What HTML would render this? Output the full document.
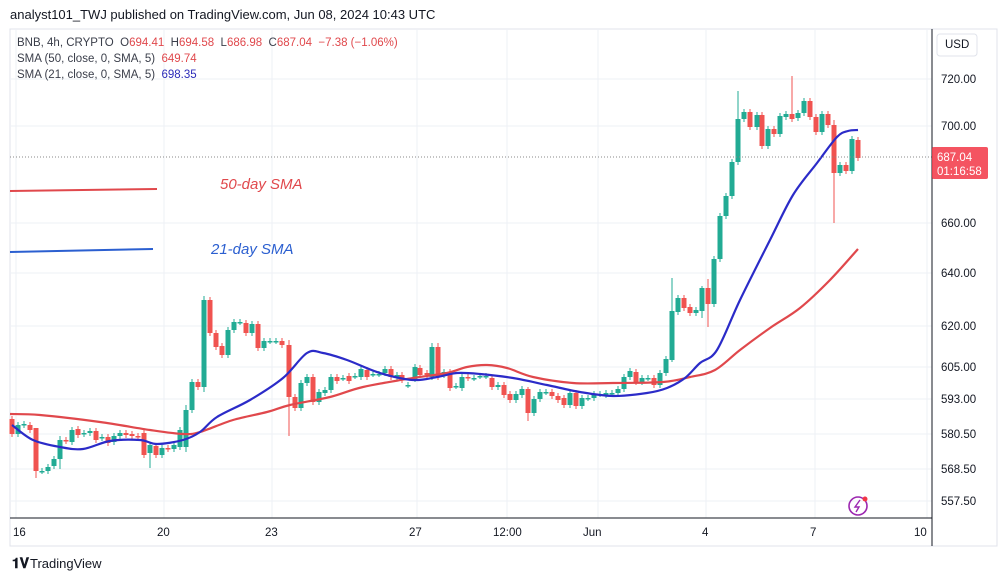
<!DOCTYPE html>
<html><head><meta charset="utf-8">
<style>
body{margin:0;background:#fff;width:1003px;height:581px;overflow:hidden;font-family:"Liberation Sans",sans-serif}
svg text{font-family:"Liberation Sans",sans-serif;white-space:pre}
</style></head><body>
<svg id="s" width="1003" height="581" xmlns="http://www.w3.org/2000/svg">
<rect width="1003" height="581" fill="#fff"/>
<text x="10" y="19" font-size="13" fill="#131722">analyst101_TWJ published on TradingView.com, Jun 08, 2024 10:43 UTC</text>
<rect x="10" y="29" width="987" height="517" fill="none" stroke="#e0e3eb"/>
<g id="grid" stroke="#eef1f6" stroke-width="1"></g>
<g id="cs"></g>
<g id="ln"></g>
<line x1="10" y1="157" x2="932" y2="157" stroke="#888" stroke-dasharray="1,2"/>
<line x1="932" y1="29" x2="932" y2="546" stroke="#131722"/>
<line x1="10" y1="518" x2="932" y2="518" stroke="#131722"/>
<g font-size="11.5" fill="#131722" id="pl"></g>
<g font-size="11.5" fill="#131722">
<text x="13" y="536">16</text><text x="157" y="536">20</text><text x="265" y="536">23</text><text x="409" y="536">27</text><text x="493" y="536">12:00</text><text x="583" y="536">Jun</text><text x="702" y="536">4</text><text x="810" y="536">7</text><text x="914" y="536">10</text>
</g>
<rect x="932" y="147" width="56" height="32" rx="2" fill="#f23645" opacity="0.85"/>
<text x="937" y="161" font-size="11.5" fill="#fff">687.04</text>
<text x="937" y="175" font-size="11.5" fill="#fff">01:16:58</text>
<text x="945" y="48" font-size="11.5" fill="#131722">USD</text>
<rect x="937" y="34" width="40" height="22" rx="3" fill="none" stroke="#e0e3eb"/>
<g font-size="11.5" fill="#3a3e4a">
<text x="17" y="46" xml:space="preserve">BNB, 4h, CRYPTO  O<tspan fill="#e0484c">694.41</tspan>  H<tspan fill="#e0484c">694.58</tspan>  L<tspan fill="#e0484c">686.98</tspan>  C<tspan fill="#e0484c">687.04  −7.38 (−1.06%)</tspan></text>
<text x="17" y="62" xml:space="preserve">SMA (50, close, 0, SMA, 5)  <tspan fill="#e0484c">649.74</tspan></text>
<text x="17" y="78" xml:space="preserve">SMA (21, close, 0, SMA, 5)  <tspan fill="#2b2bb8">698.35</tspan></text>
</g>
<line x1="10" y1="191" x2="157" y2="189" stroke="#e0484c" stroke-width="2"/>
<line x1="10" y1="252" x2="153" y2="249" stroke="#2b5fd0" stroke-width="2"/>
<text x="220" y="189" font-size="15" font-style="italic" fill="#e0484c">50-day SMA</text>
<text x="211" y="254" font-size="15" font-style="italic" fill="#2b5fd0">21-day SMA</text>
<circle cx="858" cy="506" r="9" fill="none" stroke="#9c27b0" stroke-width="1.6"/>
<path d="M860 500 L855 507 L859 507 L856 512" fill="none" stroke="#9c27b0" stroke-width="1.4"/>
<circle cx="865" cy="499" r="2.5" fill="#f23645"/>
<text x="12" y="568" font-size="14" font-weight="bold" fill="#131722">𝟏𝐕</text>
<text x="30" y="568" font-size="13" fill="#131722">TradingView</text>
</svg>
<script>
const NS="http://www.w3.org/2000/svg";
function el(p,t,a){const e=document.createElementNS(NS,t);for(const k in a)e.setAttribute(k,a[k]);p.appendChild(e);return e;}
const g=document.getElementById('grid');
const prices=[[720,79],[700,126],[660,223],[640,273],[620,326],[605,367],[593,399],[580.5,434],[568.5,469],[557.5,501]];
prices.forEach(p=>{el(g,'line',{x1:10,x2:932,y1:p[1],y2:p[1]});const t=el(document.getElementById('pl'),'text',{x:941,y:p[1]+4});t.textContent=p[0].toFixed(2);});
[16,164,272,417,507,598,706,815,927].forEach(x=>el(g,'line',{x1:x,x2:x,y1:29,y2:518}));
const c=[[12,419,434],[18,434,425],[24,425,424],[30,425,430],[36,428,471],[42,471,471],[48,471,467],[54,466,459],[60,459,440],[66,440,441],[72,442,430],[78,429,435],[84,434,433],[90,433,431],[96,431,440],[102,438,437],[108,437,443],[114,442,436],[120,436,433],[126,433,435],[132,434,436],[138,436,437],[144,433,455],[150,453,445],[156,446,455],[162,455,448],[168,448,449],[174,449,445],[180,447,430],[186,447,410],[192,410,382],[198,382,387],[204,387,300],[210,300,333],[216,333,347],[222,346,355],[228,355,330],[234,330,322],[240,322,322],[246,323,333],[252,333,324],[258,324,348],[264,348,341],[270,341,341],[276,341,341],[282,341,345],[289,345,397],[295,397,408],[301,408,383],[307,383,377],[313,377,402],[319,402,392],[325,393,390],[331,390,377],[337,377,381],[343,378,378],[349,376,381],[355,376,376],[361,377,369],[367,370,377],[373,374,374],[379,374,374],[385,373,369],[391,369,377],[397,377,375],[402,375,380],[408,385,385],[415,379,367],[420,368,375],[427,373,375],[432,377,347],[438,347,377],[444,375,372],[450,372,388],[456,386,386],[462,388,377],[468,377,378],[474,378,378],[480,376,376],[486,376,376],[492,378,387],[498,387,385],[504,385,395],[510,394,400],[516,400,394],[522,395,389],[528,389,413],[534,413,399],[540,399,392],[546,392,392],[552,392,396],[558,396,400],[564,398,405],[570,405,393],[576,393,406],[582,406,398],[588,398,398],[594,398,394],[600,394,394],[606,395,393],[612,393,393],[618,393,389],[624,389,377],[630,377,371],[636,372,382],[642,382,378],[648,378,378],[654,378,385],[660,385,373],[666,373,359],[672,360,311],[678,312,298],[684,298,308],[690,307,313],[696,313,310],[702,311,288],[708,288,304],[714,304,259],[720,259,216],[726,216,196],[732,196,162],[738,162,119],[744,119,112],[750,112,127],[757,127,115],[762,115,146],[768,146,129],[774,129,134],[780,134,116],[786,117,114],[792,114,119],[798,118,113],[804,113,101],[810,101,117],[816,117,132],[822,132,114],[828,114,125],[834,125,173],[840,173,165],[846,165,171],[852,171,139],[858,140,158]];
const wk={36:[428,478],204:[296,392],186:[405,452],289:[340,436],432:[343,380],438:[343,380],738:[91,165],792:[76,122],834:[120,223],528:[387,421],672:[278,362],702:[286,318],708:[279,327],60:[436,469],150:[443,468]};
const cs=document.getElementById('cs');
c.forEach(d=>{const [x,o,cl]=d;const up=cl<=o;const col=up?'#22ab94':'#f05350';
let hi=Math.min(o,cl)-3,lo=Math.max(o,cl)+3;if(wk[x]){hi=wk[x][0];lo=wk[x][1];}
el(cs,'line',{x1:x,x2:x,y1:hi,y2:lo,stroke:col,'stroke-width':1});
const t=Math.min(o,cl),h=Math.max(1.5,Math.abs(o-cl));
el(cs,'rect',{x:x-2.5,y:t,width:5,height:h,fill:col});});
const red=[[10,414],[40,415],[100,422],[150,430],[183,434],[200,432],[233,420],[267,412],[290,405],[330,397],[363,387],[413,378],[447,373],[467,367],[487,365],[507,368],[533,377],[573,383],[613,383],[663,382],[690,377],[715,370],[740,350],[770,328],[800,308],[830,280],[858,249]];
const blue=[[12,425],[33,440],[60,447],[83,449],[110,441],[140,440],[157,444],[183,440],[200,432],[217,417],[250,400],[283,378],[307,353],[323,353],[347,360],[380,373],[413,380],[437,377],[457,373],[480,374],[513,378],[547,385],[580,392],[613,396],[647,393],[667,388],[685,378],[700,363],[717,350],[740,300],[770,240],[793,195],[817,163],[837,137],[848,131],[858,130]];
function smooth(a){let d='M'+a[0][0]+','+a[0][1];for(let i=0;i<a.length-1;i++){const p0=a[i-1]||a[i],p1=a[i],p2=a[i+1],p3=a[i+2]||p2;
const c1=[p1[0]+(p2[0]-p0[0])/6,p1[1]+(p2[1]-p0[1])/6],c2=[p2[0]-(p3[0]-p1[0])/6,p2[1]-(p3[1]-p1[1])/6];
d+=' C'+c1.join(',')+' '+c2.join(',')+' '+p2.join(',');}return d;}
const ln=document.getElementById('ln');
el(ln,'path',{d:smooth(red),fill:'none',stroke:'#e0484c','stroke-width':2.2,'stroke-linejoin':'round'});
el(ln,'path',{d:smooth(blue),fill:'none',stroke:'#2b2bc8','stroke-width':2.2,'stroke-linejoin':'round'});
</script>
</body></html>
